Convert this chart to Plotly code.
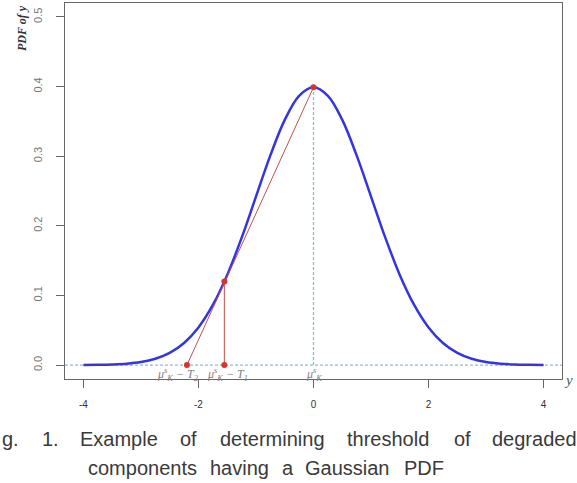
import plotly.graph_objects as go

# Gaussian PDF curve (x, pdf)
curve_x = [-4.0, -3.75, -3.5, -3.25, -3.0, -2.75, -2.5, -2.25, -2.0, -1.75, -1.5, -1.25, -1.0, -0.75, -0.5, -0.25,
           0.0, 0.25, 0.5, 0.75, 1.0, 1.25, 1.5, 1.75, 2.0, 2.25, 2.5, 2.75, 3.0, 3.25, 3.5, 3.75, 4.0]
curve_y = [0.0001, 0.0004, 0.0009, 0.0020, 0.0044, 0.0091, 0.0175, 0.0317, 0.0540, 0.0863, 0.1295, 0.1826,
           0.2420, 0.3011, 0.3521, 0.3867, 0.3989, 0.3867, 0.3521, 0.3011, 0.2420, 0.1826, 0.1295, 0.0863,
           0.0540, 0.0317, 0.0175, 0.0091, 0.0044, 0.0020, 0.0009, 0.0004, 0.0001]

# threshold construction
peak_x, peak_y = 0.0, 0.3989
t1_x, t1_y = -1.55, 0.120
t2_x = -2.2

x_ticks = [-4, -2, 0, 2, 4]
x_tick_labels = ["-4", "-2", "0", "2", "4"]
y_ticks = [0.0, 0.1, 0.2, 0.3, 0.4, 0.5]
y_tick_labels = ["0.0", "0.1", "0.2", "0.3", "0.4", "0.5"]

mu_labels = ["<i>μ<sup>s</sup><sub>K</sub> − T<sub>2</sub></i>", "<i>μ<sup>s</sup><sub>K</sub> − T<sub>1</sub></i>",
             "<i>μ<sup>s</sup><sub>K</sub></i>"]
mu_label_x = [-2.37, -1.5, 0.0]

caption1_words = ["g.", "1.", "Example", "of", "determining", "threshold", "of", "degraded"]
caption1_px = [0, 40, 78, 178, 218, 345, 452, 490]
caption2_words = ["components", "having", "a", "Gaussian", "PDF"]
caption2_px = [86, 208, 280, 303, 402]

W, H = 577, 483
ML, MR, MT, MB = 65, 15, 3, 104
PH = H - MT - MB

def py2paper(py):
    return (H - MB - py) / PH

def px2paper(px):
    return (px - ML) / (W - ML - MR)

dash_col = "#86c0d0"
red_line = "#c0504d"
red_pt = "#d9342b"

fig = go.Figure()
# dashed reference lines
fig.add_trace(go.Scatter(x=[-4.32, 4.32], y=[0, 0], mode="lines",
                         line=dict(color=dash_col, width=1.3, dash="3px,2px"), hoverinfo="skip"))
fig.add_trace(go.Scatter(x=[peak_x, peak_x], y=[0, peak_y], mode="lines",
                         line=dict(color=dash_col, width=1.3, dash="3px,2px"), hoverinfo="skip"))
# gaussian
fig.add_trace(go.Scatter(x=curve_x, y=curve_y, mode="lines", line_shape="spline",
                         line=dict(color="#3535e0", width=2.5)))
# red construction lines
fig.add_trace(go.Scatter(x=[t2_x, peak_x], y=[0, peak_y], mode="lines",
                         line=dict(color=red_line, width=1)))
fig.add_trace(go.Scatter(x=[t1_x, t1_x], y=[0, t1_y], mode="lines",
                         line=dict(color=red_line, width=1)))
fig.add_trace(go.Scatter(x=[t2_x, t1_x, t1_x, peak_x], y=[0, 0, t1_y, peak_y], mode="markers",
                         marker=dict(color=red_pt, size=6)))

for lab, lx in zip(mu_labels, mu_label_x):
    fig.add_annotation(x=lx, y=-0.013, xref="x", yref="y", text=lab, showarrow=False,
                       font=dict(family="Liberation Serif", size=12, color="#808080"),
                       xanchor="center", yanchor="middle")

for w, px in zip(caption1_words, caption1_px):
    fig.add_annotation(x=px2paper(px), y=py2paper(439), xref="paper", yref="paper", text=w,
                       showarrow=False, xanchor="left", yanchor="middle",
                       font=dict(family="Liberation Sans", size=20, color="#3a3a3a"))
for w, px in zip(caption2_words, caption2_px):
    fig.add_annotation(x=px2paper(px), y=py2paper(468), xref="paper", yref="paper", text=w,
                       showarrow=False, xanchor="left", yanchor="middle",
                       font=dict(family="Liberation Sans", size=20, color="#3a3a3a"))

# axis titles
fig.add_annotation(x=px2paper(568), y=py2paper(380), xref="paper", yref="paper", text="<i>y</i>",
                   showarrow=False, xanchor="center", yanchor="middle",
                   font=dict(family="Liberation Serif", size=15, color="#555555"))
fig.add_annotation(x=px2paper(22), y=py2paper(28), xref="paper", yref="paper",
                   text="<b><i>PDF of y</i></b>", textangle=-90,
                   showarrow=False, xanchor="center", yanchor="middle",
                   font=dict(family="Liberation Serif", size=12, color="#333333"))

fig.update_layout(
    width=W, height=H, margin=dict(l=ML, r=MR, t=MT, b=MB),
    paper_bgcolor="white", plot_bgcolor="white", showlegend=False,
    xaxis=dict(range=[-4.32, 4.32], tickvals=x_ticks, ticktext=x_tick_labels,
               showgrid=False, zeroline=False, showline=True, linecolor="#666666", linewidth=1,
               mirror=True, ticks="outside", ticklen=8, tickcolor="#666666",
               tickfont=dict(family="Liberation Sans", size=10, color="#333333"),
               ticklabelstandoff=8),
    yaxis=dict(range=[-0.02, 0.52], tickvals=y_ticks, ticktext=y_tick_labels,
               showgrid=False, zeroline=False, showline=True, linecolor="#666666", linewidth=1,
               mirror=True, ticks="outside", ticklen=8, tickcolor="#666666", tickangle=-90,
               tickfont=dict(family="Liberation Sans", size=11, color="#777777"),
               ticklabelstandoff=10),
)

fig.write_html("out.html")
